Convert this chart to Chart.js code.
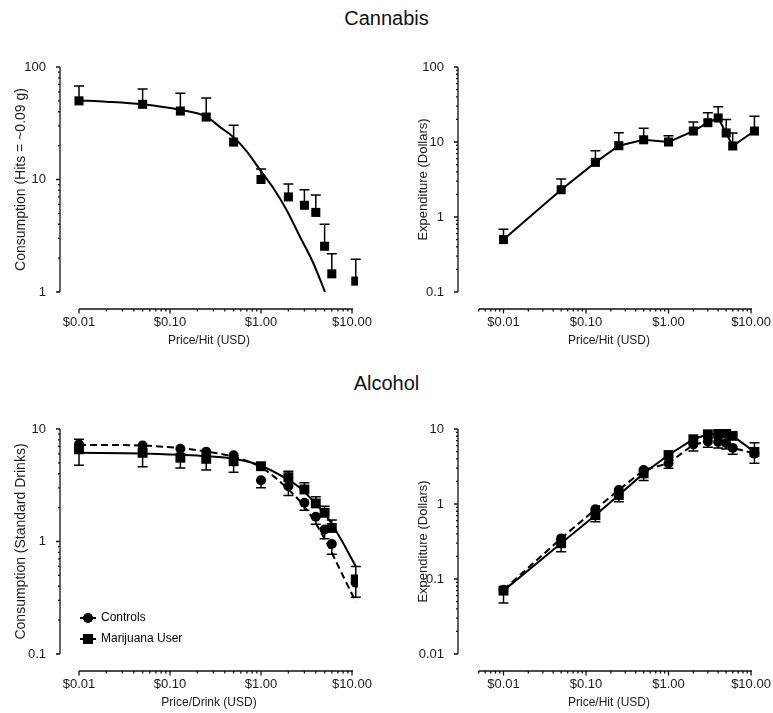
<!DOCTYPE html>
<html>
<head>
<meta charset="utf-8">
<script src="https://cdn.jsdelivr.net/npm/chart.js@4.4.1/dist/chart.umd.min.js"></script>
<style>
  html, body { margin: 0; padding: 0; background: #fff; }
  body { width: 773px; height: 713px; position: relative; overflow: hidden;
         font-family: "Liberation Sans", Arial, sans-serif; color: #111; }
  .heading { position: absolute; left: 0; width: 773px; text-align: center;
             font-size: 20px; line-height: 24px; }
  canvas { position: absolute; }
</style>
</head>
<body>
<div class="heading" style="top:6px">Cannabis</div>
<div class="heading" style="top:371px">Alcohol</div>
<canvas id="c1" width="380" height="320" style="left:0;top:40px"></canvas>
<canvas id="c2" width="383" height="320" style="left:390px;top:40px"></canvas>
<canvas id="c3" width="380" height="313" style="left:0;top:400px"></canvas>
<canvas id="c4" width="383" height="313" style="left:390px;top:400px"></canvas>
<script>
// ---------------- data ----------------
const prices = [0.01, 0.05, 0.13, 0.25, 0.5, 1, 2, 3, 4, 5, 6, 11];

// Cannabis: consumption (hits) and expenditure
const cannabisHits       = [50, 46.6, 40.6, 35.9, 21.5, 10, 7.0, 5.9, 5.1, 2.55, 1.45, 1.25];
const cannabisHitsErrTop = [67.8, 63.7, 58.4, 53, 30.3, 12.4, 9.1, 8.1, 7.3, 4.0, 2.19, 1.95];
const cannabisFitPrice   = [0.01, 0.02, 0.05, 0.13, 0.25, 0.35, 0.5, 0.7, 0.98, 1.37, 1.91, 2.68, 3.76, 5.05];
const cannabisFitHits    = [50.5, 49.2, 46.6, 41.5, 36.2, 29.5, 23.7, 17.7, 12.1, 8.35, 5.36, 3.1, 1.8, 1.0];
const cannabisSpend       = [0.50, 2.31, 5.35, 8.93, 10.7, 10.0, 14.0, 18.1, 20.9, 13.2, 8.85, 14.0];
const cannabisSpendErrTop = [0.685, 3.21, 7.66, 13.3, 15.2, 12.1, 18.5, 24.6, 29.6, 19.9, 13.2, 22.0];

// Alcohol: consumption (standard drinks)
const controlsDrinks    = [7.3, 7.13, 6.67, 6.27, 5.85, 3.5, 3.1, 2.21, 1.66, 1.28, 0.95, 0.43];
const controlsDrinksErr = [8.1, null, null, null, null, 3.0, 2.56, 1.90, 1.42, 1.06, 0.77, 0.32];
const usersDrinks       = [6.6, 6.14, 5.55, 5.43, 5.17, 4.67, 3.73, 2.9, 2.18, 1.80, 1.32, 0.46];
const usersDrinksErr    = [4.77, 4.61, 4.49, 4.31, 4.13, null, 4.22, 3.32, 2.5, 2.06, 1.55, 0.60];
const usersFitPrice     = [0.01, 0.05, 0.13, 0.25, 0.5, 0.98, 1.91, 2.68, 3.76, 5.3, 7.4, 11];
const usersFitDrinks    = [6.14, 6.06, 5.89, 5.73, 5.43, 4.74, 3.61, 3.0, 2.28, 1.66, 1.08, 0.60];
const controlsFitPrice  = [0.01, 0.05, 0.13, 0.25, 0.5, 0.98, 1.37, 1.91, 2.68, 3.76, 5.3, 7.4, 11];
const controlsFitDrinks = [7.23, 7.13, 6.75, 6.31, 5.66, 4.61, 3.81, 3.0, 2.28, 1.57, 0.97, 0.56, 0.29];

// Alcohol: expenditure
const controlsSpend    = [0.072, 0.348, 0.85, 1.54, 2.84, 3.49, 6.2, 6.8, 6.7, 6.5, 5.6, 4.7];
const controlsSpendErr = [null, null, null, null, null, 2.99, 5.1, 5.7, 5.6, 5.4, 4.6, 3.5];
const usersSpend       = [0.070, 0.30, 0.71, 1.32, 2.56, 4.5, 7.3, 8.5, 8.6, 8.8, 8.1, 4.95];
const usersSpendErr    = [0.048, 0.231, 0.58, 1.07, 2.05, null, null, null, null, null, null, 6.57];

// tick labels
const xTickValues = [0.01, 0.1, 1, 10];
const xTickLabels = ['$0.01', '$0.10', '$1.00', '$10.00'];
const legendNames = ['Controls', 'Marijuana User'];

// ---------------- helpers ----------------
Chart.defaults.font.family = '"Liberation Sans", Arial, sans-serif';
Chart.defaults.color = '#1a1a1a';

const pts = (xs, ys) => xs.map((x, i) => ({x: x, y: ys[i]}));

function decadeTicks(min, max) {
  const out = [];
  for (let e = Math.round(Math.log10(min)); e <= Math.round(Math.log10(max)); e++) out.push(Math.pow(10, e));
  return out;
}
function fmtDecade(v) {
  return v >= 1 ? String(Math.round(v)) : String(+v.toPrecision(1));
}

// Prism-style detached axes
const prismAxes = {
  id: 'prismAxes',
  beforeDatasetsDraw(chart, args, opts) {
    const {ctx, chartArea: a, scales: {x, y}} = chart;
    ctx.save();
    ctx.strokeStyle = '#111';
    ctx.lineWidth = 1.3;
    ctx.beginPath();
    // y axis
    ctx.moveTo(a.left, a.top);
    ctx.lineTo(a.left, a.bottom);
    const e0 = Math.round(Math.log10(y.min)), e1 = Math.round(Math.log10(y.max));
    for (let e = e0; e <= e1; e++) {
      for (let k = 1; k <= 9; k++) {
        const v = k * Math.pow(10, e);
        if (v > y.max * 1.0001) break;
        const py = y.getPixelForValue(v);
        const len = k === 1 ? 4 : 2;
        ctx.moveTo(a.left - len, py);
        ctx.lineTo(a.left, py);
      }
    }
    // x axis
    const yx = a.bottom + opts.gap;
    ctx.moveTo(x.getPixelForValue(opts.from), yx);
    ctx.lineTo(x.getPixelForValue(opts.to) + 1, yx);
    const f0 = Math.floor(Math.log10(opts.from) + 1e-9), f1 = Math.ceil(Math.log10(opts.to) - 1e-9);
    for (let e = f0; e <= f1; e++) {
      for (let k = 1; k <= 9; k++) {
        const v = k * Math.pow(10, e);
        if (v < opts.from * 0.999 || v > opts.to * 1.001) continue;
        const px = x.getPixelForValue(v);
        const len = k === 1 ? 4.5 : 2.5;
        ctx.moveTo(px, yx);
        ctx.lineTo(px, yx + len);
      }
    }
    ctx.stroke();
    ctx.restore();
  }
};

// one-sided error bars taken from dataset.errEnd
const errorBars = {
  id: 'errorBars',
  beforeDatasetsDraw(chart) {
    const {ctx} = chart;
    const ys = chart.scales.y;
    chart.data.datasets.forEach((ds, i) => {
      if (!ds.errEnd) return;
      const meta = chart.getDatasetMeta(i);
      ctx.save();
      ctx.strokeStyle = '#000';
      ctx.lineWidth = 1.5;
      ctx.beginPath();
      ds.errEnd.forEach((end, j) => {
        if (end == null) return;
        const el = meta.data[j];
        const py = ys.getPixelForValue(end);
        ctx.moveTo(el.x, el.y);
        ctx.lineTo(el.x, py);
        ctx.moveTo(el.x - 5, py);
        ctx.lineTo(el.x + 5, py);
      });
      ctx.stroke();
      ctx.restore();
    });
  }
};

// keep an in-chart-area legend inside the plot box (vertical legend box starts at 0 otherwise)
const legendInArea = {
  id: 'legendInArea',
  afterUpdate(chart) {
    const lg = chart.legend;
    if (!lg || !lg.options.display || lg.options.position !== 'chartArea') return;
    const d = chart.chartArea.top - lg.top;
    lg.top += d;
    lg.bottom += d;
  }
};

function makeOptions(c) {
  return {
    responsive: false,
    animation: false,
    maintainAspectRatio: false,
    layout: {padding: {top: c.padTop, right: c.padRight, left: 0, bottom: 0}},
    plugins: {
      legend: c.legend || {display: false},
      tooltip: {enabled: false},
      prismAxes: {gap: 17, from: c.axisFrom, to: c.axisTo}
    },
    scales: {
      x: {
        type: 'logarithmic',
        min: c.xMin, max: c.xMax,
        border: {display: false},
        grid: {display: true, drawOnChartArea: false, drawTicks: true, tickLength: 23,
               color: 'rgba(0,0,0,0)', tickColor: 'rgba(0,0,0,0)'},
        afterBuildTicks: s => { s.ticks = xTickValues.map(v => ({value: v})); },
        afterFit: s => { s.height = c.xHeight; },
        ticks: {padding: 0, autoSkip: false, maxRotation: 0, minRotation: 0,
                font: {size: 13}, callback: (v, i) => xTickLabels[i]},
        title: {display: true, text: c.xTitle, font: {size: 12},
                padding: {top: 0, bottom: c.xTitlePad}}
      },
      y: {
        type: 'logarithmic',
        min: c.yMin, max: c.yMax,
        border: {display: false},
        grid: {display: false},
        afterBuildTicks: s => { s.ticks = decadeTicks(c.yMin, c.yMax).map(v => ({value: v})); },
        afterFit: s => { s.width = c.yWidth; },
        ticks: {padding: 6, autoSkip: false, font: {size: 13}, callback: v => fmtDecade(v)},
        title: {display: true, text: c.yTitle, font: {size: c.yTitleSize},
                padding: {top: c.yTitlePad, bottom: 0}}
      }
    }
  };
}

const markerSet = (label, xs, ys, errs, style, radius, showLine, dash) => ({
  label: label,
  data: pts(xs, ys),
  errEnd: errs,
  showLine: showLine,
  borderColor: '#000',
  backgroundColor: '#000',
  borderWidth: 2,
  borderDash: dash || [],
  tension: 0,
  pointStyle: style,
  pointRadius: radius,
  pointBorderWidth: 0,
  pointBackgroundColor: '#000'
});
const curveSet = (label, xs, ys, dash) => ({
  label: label,
  data: pts(xs, ys),
  showLine: true,
  borderColor: '#000',
  borderWidth: 2,
  borderDash: dash || [],
  pointRadius: 0,
  cubicInterpolationMode: 'monotone'
});

// ---------------- Cannabis consumption ----------------
new Chart(document.getElementById('c1'), {
  type: 'line',
  data: {datasets: [
    markerSet('Cannabis', prices, cannabisHits, cannabisHitsErrTop, 'rect', 6.4, false),
    curveSet('Cannabis fit', cannabisFitPrice, cannabisFitHits)
  ]},
  options: makeOptions({padTop: 27, padRight: 22, yWidth: 60, xHeight: 68,
    xMin: 0.006182, xMax: 11.64, yMin: 1, yMax: 100, axisFrom: 0.01, axisTo: 10,
    xTitle: 'Price/Hit (USD)', xTitlePad: 12,
    yTitle: 'Consumption (Hits = ~0.09 g)', yTitleSize: 14, yTitlePad: 12.6}),
  plugins: [prismAxes, errorBars]
});

// ---------------- Cannabis expenditure ----------------
new Chart(document.getElementById('c2'), {
  type: 'line',
  data: {datasets: [
    markerSet('Cannabis', prices, cannabisSpend, cannabisSpendErrTop, 'rect', 6.4, true)
  ]},
  options: makeOptions({padTop: 27, padRight: 13, yWidth: 68, xHeight: 68,
    xMin: 0.002809, xMax: 12.85, yMin: 0.1, yMax: 100, axisFrom: 0.005, axisTo: 10,
    xTitle: 'Price/Hit (USD)', xTitlePad: 12,
    yTitle: 'Expenditure (Dollars)', yTitleSize: 13, yTitlePad: 25.7}),
  plugins: [prismAxes, errorBars]
});

// legend icons (marker with a short line through it)
function legendIcon(style) {
  const cv = document.createElement('canvas');
  cv.width = 40; cv.height = 14;
  const g = cv.getContext('2d');
  g.strokeStyle = '#000'; g.fillStyle = '#000'; g.lineWidth = 2;
  g.beginPath(); g.moveTo(18, 7); g.lineTo(34, 7); g.stroke();
  if (style === 'circle') { g.beginPath(); g.arc(26, 7, 5, 0, Math.PI * 2); g.fill(); }
  else { g.fillRect(21, 2, 10, 10); }
  return cv;
}
const legendIcons = [legendIcon('circle'), legendIcon('rect')];

// ---------------- Alcohol consumption ----------------
new Chart(document.getElementById('c3'), {
  type: 'line',
  data: {datasets: [
    markerSet(legendNames[0], prices, controlsDrinks, controlsDrinksErr, 'circle', 5, false),
    markerSet(legendNames[1], prices, usersDrinks, usersDrinksErr, 'rect', 7, false),
    curveSet('Marijuana User fit', usersFitPrice, usersFitDrinks),
    curveSet('Controls fit', controlsFitPrice, controlsFitDrinks, [7, 4])
  ]},
  options: makeOptions({padTop: 29, padRight: 22, yWidth: 60, xHeight: 59,
    xMin: 0.006182, xMax: 11.64, yMin: 0.1, yMax: 10, axisFrom: 0.01, axisTo: 10,
    xTitle: 'Price/Drink (USD)', xTitlePad: 2.8,
    yTitle: 'Consumption (Standard Drinks)', yTitleSize: 14, yTitlePad: 13.1,
    legend: {
      display: true, position: 'chartArea', align: 'end',
      labels: {
        usePointStyle: true, pointStyleWidth: 26, padding: 9,
        font: {size: 12}, color: '#1a1a1a',
        generateLabels: () => legendNames.map((name, i) => ({
          text: name, pointStyle: legendIcons[i], fillStyle: '#000',
          strokeStyle: '#000', lineWidth: 0, hidden: false, datasetIndex: i
        }))
      }
    }}),
  plugins: [prismAxes, errorBars, legendInArea]
});

// ---------------- Alcohol expenditure ----------------
new Chart(document.getElementById('c4'), {
  type: 'line',
  data: {datasets: [
    markerSet(legendNames[0], prices, controlsSpend, controlsSpendErr, 'circle', 5, true, [7, 4]),
    markerSet(legendNames[1], prices, usersSpend, usersSpendErr, 'rect', 7, true)
  ]},
  options: makeOptions({padTop: 29, padRight: 13, yWidth: 68, xHeight: 59,
    xMin: 0.002809, xMax: 12.85, yMin: 0.01, yMax: 10, axisFrom: 0.005, axisTo: 10,
    xTitle: 'Price/Hit (USD)', xTitlePad: 2.8,
    yTitle: 'Expenditure (Dollars)', yTitleSize: 13, yTitlePad: 25.2}),
  plugins: [prismAxes, errorBars]
});
</script>
</body>
</html>
